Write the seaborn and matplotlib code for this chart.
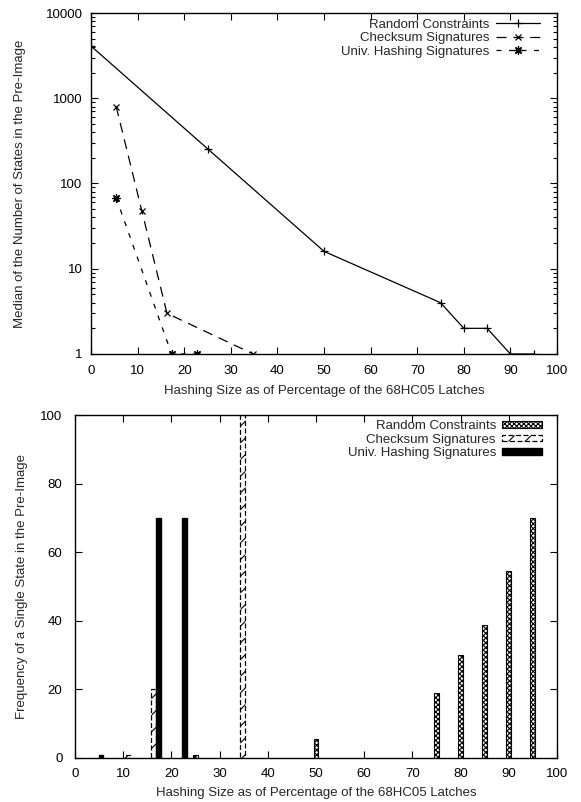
import numpy as np
import pandas as pd
import seaborn as sns
import matplotlib
matplotlib.use('Agg')
import matplotlib.pyplot as plt
from matplotlib.patches import Patch
from matplotlib.ticker import LogLocator, FixedLocator, NullFormatter

# ---- data ----
series_names = ['Random Constraints', 'Checksum Signatures', 'Univ. Hashing Signatures']

# top: median of number of states in pre-image
rand_x = [0, 25, 50, 75, 80, 85, 90, 95]
rand_med = [4096, 256, 16, 4, 2, 2, 1, 1]
chk_x = [5.4, 10.9, 16.3, 34.8]
chk_med = [800, 48, 3, 1]
univ_x = [5.4, 17.3, 22.7]
univ_med = [68, 1, 1]

# bottom: frequency of a single state
rand_bx = [25, 50, 75, 80, 85, 90, 95]
rand_freq = [1, 5.5, 19, 30, 38.8, 54.4, 70]
chk_bx = [10.9, 16.3, 34.8]
chk_freq = [1, 20, 100]
univ_bx = [5.4, 17.3, 22.7]
univ_freq = [1, 70, 70]

xlabel = 'Hashing Size as of Percentage of the 68HC05 Latches'
ylabel_top = 'Median of the Number of States in the Pre-Image'
ylabel_bot = 'Frequency of a Single State in the Pre-Image'

FS = 9.5

sns.set_theme(style='ticks')
plt.rcParams['font.family'] = ['Liberation Sans', 'DejaVu Sans']
plt.rcParams['font.size'] = FS
plt.rcParams['hatch.linewidth'] = 0.8

fig = plt.figure(figsize=(5.81, 8.02), dpi=100)
ax1 = fig.add_axes([91/581, 1-354/802, 466/581, 341/802])
ax2 = fig.add_axes([75/581, 1-758/802, 482/581, 343/802])


def gnuplot_axes(ax, xpad, ypad):
    for s in ax.spines.values():
        s.set_linewidth(1.0)
        s.set_color('black')
    ax.tick_params(which='both', direction='in', top=True, right=True,
                   colors='black', labelsize=FS, width=0.8)
    ax.tick_params(which='major', length=5)
    ax.tick_params(which='minor', length=3)
    ax.tick_params(axis='x', which='major', pad=xpad)
    ax.tick_params(axis='y', which='major', pad=ypad)
    ax.xaxis.label.set_size(FS)
    ax.yaxis.label.set_size(FS)


# ---------- top chart ----------
top_df = {
    series_names[0]: pd.DataFrame({'x': rand_x, 'y': rand_med}),
    series_names[1]: pd.DataFrame({'x': chk_x, 'y': chk_med}),
    series_names[2]: pd.DataFrame({'x': univ_x, 'y': univ_med}),
}
line_styles = {
    series_names[0]: dict(marker='+', ls='-', ms=6),
    series_names[1]: dict(marker='x', ls=(0, (8, 5.5)), ms=5),
    series_names[2]: dict(marker=(8, 2, 0), ls=(0, (4, 6)), ms=6),
}
for name in series_names:
    sns.lineplot(data=top_df[name], x='x', y='y', ax=ax1, color='black',
                 linewidth=0.9, label=name)
    ln = ax1.lines[-1]
    st = line_styles[name]
    ln.set_linestyle(st['ls'])
    ln.set_marker(st['marker'])
    ln.set_markersize(st['ms'])
    ln.set_markeredgewidth(0.9)
    ln.set_markeredgecolor('black')
    ln.set_markerfacecolor('black')

ax1.set_yscale('log')
ax1.set_xlim(0, 100)
ax1.set_ylim(1, 10000)
ax1.xaxis.set_major_locator(FixedLocator(np.arange(0, 101, 10)))
ax1.set_xticklabels([str(v) for v in range(0, 101, 10)])
ax1.yaxis.set_major_locator(FixedLocator([1, 10, 100, 1000, 10000]))
ax1.set_yticklabels(['1', '10', '100', '1000', '10000'])
ax1.yaxis.set_minor_locator(LogLocator(base=10, subs=np.arange(2, 10)))
ax1.yaxis.set_minor_formatter(NullFormatter())
ax1.set_xlabel(xlabel, labelpad=6)
ax1.set_ylabel(ylabel_top, labelpad=14)
gnuplot_axes(ax1, xpad=8, ypad=6)
ax1.legend(loc='upper right', bbox_to_anchor=(0.9635, 0.984), frameon=False,
           markerfirst=False, fontsize=FS, handlelength=3.3, handletextpad=0.5,
           labelspacing=0.1, borderaxespad=0, borderpad=0, numpoints=1)

# ---------- bottom chart ----------
bar_w = 1.0
bar_sets = [
    (rand_bx, rand_freq, dict(color='white', edgecolor='black', hatch='xxxxxxx', linewidth=0.8)),
    (chk_bx, chk_freq, dict(color='white', edgecolor='black', hatch='//', linewidth=0.9,
                            linestyle=(0, (4, 2)))),
    (univ_bx, univ_freq, dict(color='black', edgecolor='black', linewidth=1.0)),
]
for xs, ys, kw in bar_sets:
    df = pd.DataFrame({'x': xs, 'y': ys})
    n_before = len(ax2.patches)
    sns.barplot(data=df, x='x', y='y', ax=ax2, native_scale=True, orient='x',
                errorbar=None, saturation=1, **kw)
    for p in ax2.patches[n_before:]:
        cx = p.get_x() + p.get_width() / 2
        p.set_width(bar_w)
        p.set_x(cx - bar_w / 2)

ax2.set_xlim(0, 100)
ax2.set_ylim(0, 100)
ax2.xaxis.set_major_locator(FixedLocator(np.arange(0, 101, 10)))
ax2.set_xticklabels([str(v) for v in range(0, 101, 10)])
ax2.yaxis.set_major_locator(FixedLocator(np.arange(0, 101, 20)))
ax2.set_yticklabels([str(v) for v in range(0, 101, 20)])
ax2.set_xlabel(xlabel, labelpad=5)
ax2.set_ylabel(ylabel_bot, labelpad=8.5)
gnuplot_axes(ax2, xpad=7, ypad=9)

handles = [
    Patch(facecolor='white', edgecolor='black', hatch='xxxxxxx', linewidth=0.8),
    Patch(facecolor='white', edgecolor='black', hatch='//', linewidth=0.9, linestyle=(0, (4, 2))),
    Patch(facecolor='black', edgecolor='black'),
]
ax2.legend(handles, series_names, loc='upper right', bbox_to_anchor=(0.969, 0.984),
           frameon=False, markerfirst=False, fontsize=FS, handlelength=3.0,
           handleheight=0.4, handletextpad=0.5, labelspacing=0.1,
           borderaxespad=0, borderpad=0)

fig.savefig('out.png', dpi=100)
